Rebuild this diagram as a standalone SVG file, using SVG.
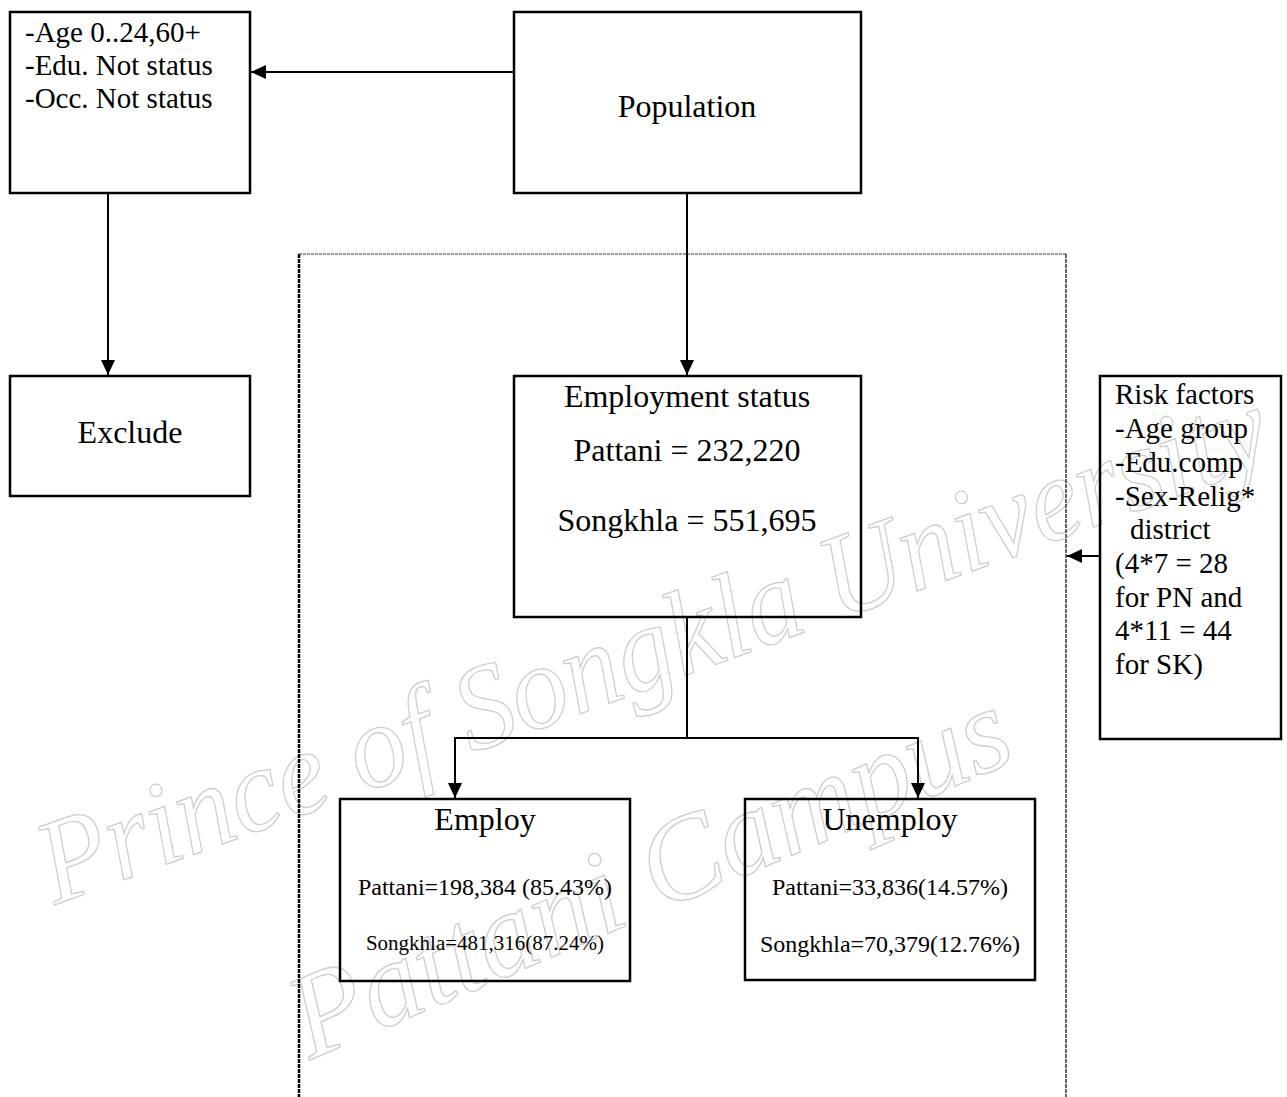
<svg xmlns="http://www.w3.org/2000/svg" width="1287" height="1097" viewBox="0 0 1287 1097">
<style>
.box{fill:none;stroke:#000;stroke-width:2.5}
.t{font-family:"Liberation Serif","Times New Roman",serif;fill:#000}
.c{stroke:#000;stroke-width:2;fill:none}
.wm{font-family:"Liberation Serif",serif;font-style:italic;fill:none;stroke:#cdcdcd;stroke-width:1.3}
</style>
<defs>
<marker id="ah" viewBox="0 0 15 14" refX="15" refY="7" markerWidth="15" markerHeight="14" markerUnits="userSpaceOnUse" orient="auto">
<path d="M0,0 L15,7 L0,14 z" fill="#000"/>
</marker>
</defs>
<rect width="1287" height="1097" fill="#fff"/>
<g id="watermark">
<text class="wm" font-size="120" transform="translate(55,905) rotate(-20)" textLength="1300" lengthAdjust="spacingAndGlyphs">Prince of Songkla University</text>
<text class="wm" font-size="120" transform="translate(310,1060) rotate(-23)" textLength="770" lengthAdjust="spacingAndGlyphs">Pattani Campus</text>
</g>
<g id="frame">
<line x1="299" y1="254" x2="1066" y2="254" stroke="#777" stroke-width="1.5" stroke-dasharray="3,1"/>
<line x1="299" y1="254" x2="299" y2="1097" stroke="#000" stroke-width="2.5" stroke-dasharray="4,1"/>
<line x1="1066" y1="254" x2="1066" y2="1097" stroke="#333" stroke-width="1.5" stroke-dasharray="4,1"/>
</g>
<g id="connectors">
<path class="c" d="M514,72 H251" marker-end="url(#ah)"/>
<path class="c" d="M108,193 V375" marker-end="url(#ah)"/>
<path class="c" d="M687,193 V375" marker-end="url(#ah)"/>
<path class="c" d="M687,617 V738 H455 V798" marker-end="url(#ah)"/>
<path class="c" d="M687,738 H918 V798" marker-end="url(#ah)"/>
<path class="c" d="M1100,556 H1067" marker-end="url(#ah)"/>
</g>
<g id="node-exclusion">
<rect class="box" x="10" y="12" width="240" height="181"/>
<g class="t" font-size="29">
<text x="25" y="42">-Age 0..24,60+</text>
<text x="25" y="75">-Edu. Not status</text>
<text x="25" y="108">-Occ. Not status</text>
</g>
</g>
<g id="node-population">
<rect class="box" x="514" y="12" width="347" height="181"/>
<text class="t" font-size="32" x="687" y="117" text-anchor="middle">Population</text>
</g>
<g id="node-exclude">
<rect class="box" x="10" y="376" width="240" height="120"/>
<text class="t" font-size="32" x="130" y="443" text-anchor="middle">Exclude</text>
</g>
<g id="node-employment">
<rect class="box" x="514" y="376" width="347" height="241"/>
<text class="t" font-size="32" x="687" y="407" text-anchor="middle">Employment status</text>
<text class="t" font-size="32" x="687" y="461" text-anchor="middle">Pattani = 232,220</text>
<text class="t" font-size="32" x="687" y="531" text-anchor="middle">Songkhla = 551,695</text>
</g>
<g id="node-employ">
<rect class="box" x="340" y="799" width="290" height="182"/>
<text class="t" font-size="32" x="485" y="830" text-anchor="middle">Employ</text>
<text class="t" font-size="24" x="485" y="895" text-anchor="middle">Pattani=198,384 (85.43%)</text>
<text class="t" font-size="21" x="485" y="950" text-anchor="middle">Songkhla=481,316(87.24%)</text>
</g>
<g id="node-unemploy">
<rect class="box" x="745" y="799" width="290" height="181"/>
<text class="t" font-size="32" x="890" y="830" text-anchor="middle">Unemploy</text>
<text class="t" font-size="24" x="890" y="895" text-anchor="middle">Pattani=33,836(14.57%)</text>
<text class="t" font-size="24" x="890" y="952" text-anchor="middle">Songkhla=70,379(12.76%)</text>
</g>
<g id="node-risk">
<rect class="box" x="1100" y="376" width="181" height="363"/>
<g class="t" font-size="29">
<text x="1115" y="404">Risk factors</text>
<text x="1115" y="438">-Age group</text>
<text x="1115" y="472">-Edu.comp</text>
<text x="1115" y="506">-Sex-Relig*</text>
<text x="1130" y="539">district</text>
<text x="1115" y="573">(4*7 = 28</text>
<text x="1115" y="607">for PN and</text>
<text x="1115" y="640">4*11 = 44</text>
<text x="1115" y="674">for SK)</text>
</g>
</g>
</svg>
